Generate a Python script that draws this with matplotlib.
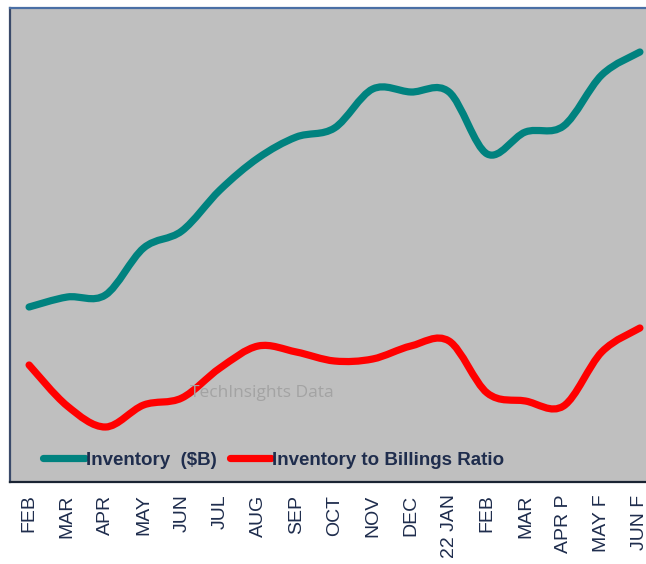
import numpy as np
import matplotlib
matplotlib.use("Agg")
from matplotlib import pyplot as plt
from matplotlib.path import Path
from matplotlib.patches import PathPatch
from matplotlib.lines import Line2D

months = ["FEB", "MAR", "APR", "MAY", "JUN", "JUL", "AUG", "SEP", "OCT",
          "NOV", "DEC", "22 JAN", "FEB", "MAR", "APR P", "MAY F", "JUN F"]
inventory = [175, 185, 187, 234, 251, 292, 324, 345, 354, 393, 390, 390,
             328, 350, 356, 407, 430]
ratio = [117, 76, 55, 77, 84, 114, 136, 130, 121, 123, 136, 141,
         89, 81, 76, 130, 154]

teal = "#00827F"
red = "#FF0000"
navy = "#1F2D4D"


def smooth_path(xs, ys):
    # excel style smoothed line: bezier segments with catmull-rom control points
    pts = np.column_stack([xs, ys]).astype(float)
    n = len(pts)
    verts = [pts[0]]
    codes = [Path.MOVETO]
    for i in range(n - 1):
        p0 = pts[i - 1] if i > 0 else pts[i]
        p1 = pts[i]
        p2 = pts[i + 1]
        p3 = pts[i + 2] if i + 2 < n else pts[i + 1]
        c1 = p1 + (p2 - p0) / 6.0
        c2 = p2 - (p3 - p1) / 6.0
        verts += [c1, c2, p2]
        codes += [Path.CURVE4] * 3
    return Path(verts, codes)


fig = plt.figure(figsize=(6.46, 5.64), dpi=100)
ax = fig.add_axes([10 / 646, 1 - 482 / 564, 649 / 646, 474 / 564])
ax.set_facecolor("#BFBFBF")

x = np.arange(len(months))
for vals, col in [(inventory, teal), (ratio, red)]:
    patch = PathPatch(smooth_path(x, vals), facecolor="none", edgecolor=col,
                      lw=5.2, capstyle="round", joinstyle="round")
    ax.add_patch(patch)

ax.set_xlim(-0.5, len(months) - 0.5)
ax.set_ylim(0, 474)
ax.set_yticks([])
ax.set_xticks(x)
ax.set_xticklabels(months, rotation=90, fontsize=14, color=navy,
                   family=["Liberation Sans", "DejaVu Sans"])
ax.tick_params(axis="x", length=0, pad=9)

ax.spines["top"].set_color("#4A6FA5")
ax.spines["top"].set_linewidth(1.6)
ax.spines["left"].set_color("#3A4A6A")
ax.spines["left"].set_linewidth(1.6)
ax.spines["bottom"].set_color("#1A2433")
ax.spines["bottom"].set_linewidth(1.6)
ax.spines["right"].set_visible(False)

ax.text(0.277, 0.188, "TechInsights Data", transform=ax.transAxes,
        fontsize=12.5, color="#A3A3A3", va="center", ha="left",
        family=["Open Sans", "DejaVu Sans"])

handles = [Line2D([], [], color=teal, lw=5.2, solid_capstyle="round"),
           Line2D([], [], color=red, lw=5.2, solid_capstyle="round")]
leg = ax.legend(handles, ["Inventory  ($B)", "Inventory to Billings Ratio"],
                loc="center left", bbox_to_anchor=(0.04, 0.046), ncol=2,
                frameon=False, handlelength=2.2, handletextpad=0.05,
                columnspacing=0.7, borderaxespad=0,
                prop={"family": ["Liberation Sans Narrow", "Liberation Sans"],
                      "weight": "bold", "size": 13.5})
for t in leg.get_texts():
    t.set_color(navy)

fig.savefig("out.png", dpi=100)
